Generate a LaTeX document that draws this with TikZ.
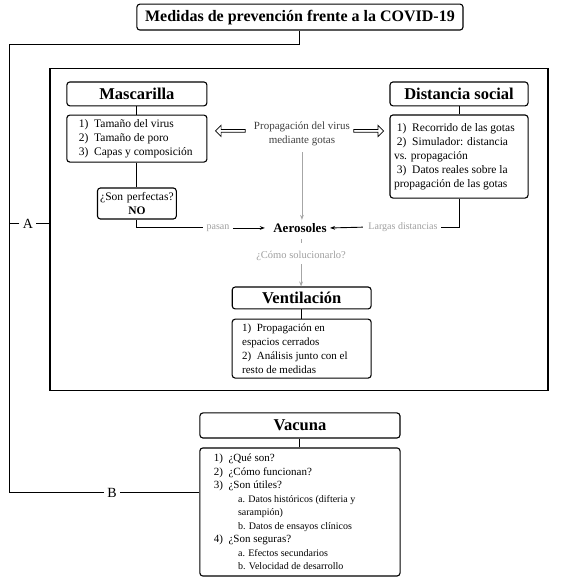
\documentclass[tikz,border=0pt]{standalone}
\usepackage{fontspec}
\setmainfont{Liberation Serif}
\usetikzlibrary{shapes.arrows, arrows.meta, positioning}

\newcommand{\vsub}[1]{\hspace*{2.2em}{\fontsize{10}{13.5}\selectfont #1}}

\begin{document}
\begin{tikzpicture}[
    hdr/.style={rectangle, rounded corners=3pt, draw, line width=1.1pt, align=center, inner sep=1pt, font=\fontsize{16.5}{19}\selectfont\bfseries},
    lst/.style={rectangle, rounded corners=3pt, draw, line width=1.1pt, align=flush left, inner xsep=6pt, font=\fontsize{11.5}{14}\selectfont},
    lbl/.style={font=\fontsize{10}{12}\selectfont, text=gray!75},
    hollow/.style={single arrow, draw, line width=0.7pt, minimum height=1.05cm, minimum width=0.4cm, single arrow head extend=0.12cm, inner sep=0.8pt},
    ln/.style={line width=1pt},
    arr/.style={-{Stealth[length=5pt]}, line width=0.9pt},
    garr/.style={-{Stealth[length=5pt]}, line width=0.9pt, gray!70}
]

\useasboundingbox (0,0) rectangle (19.85,-20.31);

%% -- Title and big frame ----------------------------------------------------
\node[hdr, font=\fontsize{16}{19}\selectfont\bfseries, minimum width=11.46cm, minimum height=0.91cm] (title) at (10.54,-0.60) {Medidas de prevención frente a la COVID-19};
\node[draw, line width=1.3pt, minimum width=17.50cm, minimum height=11.32cm] (frame) at (10.51,-8.06) {};
\coordinate (tl) at (0.35,-1.55);

%% -- Mascarilla column --------------------------------------------------------
\node[hdr, minimum width=4.92cm, minimum height=0.84cm] (mhdr) at (4.81,-3.30) {Mascarilla};
\node[lst, inner xsep=12pt, text width=4.08cm, minimum height=1.65cm] (mlist) at (4.81,-4.87)
    {1)~~Tamaño del virus\\2)~~Tamaño de poro\\3)~~Capas y composición};
\node[lst, align=center, text width=2.7cm, minimum height=1.09cm, inner xsep=1pt] (perf) at (4.81,-7.15)
    {¿Son perfectas?\\\textbf{NO}};

%% -- Distancia social column -------------------------------------------------
\node[hdr, minimum width=4.85cm, minimum height=0.84cm] (dhdr) at (16.13,-3.30) {Distancia social};
\node[lst, inner xsep=4pt, text width=4.57cm, minimum height=2.92cm] (dlist) at (16.13,-5.50)
    {\hspace*{0.25em}1)~~Recorrido de las gotas\\\hspace*{0.25em}2)~~Simulador: distancia\\vs. propagación\\\hspace*{0.25em}3)~~Datos reales sobre la\\propagación de las gotas};

%% -- Middle: propagation and aerosols ----------------------------------------
\node[font=\fontsize{11}{13.5}\selectfont, text=black!75, align=center] (prop) at (10.61,-4.71) {Propagación del virus\\mediante gotas};
\node[hollow, shape border rotate=180] (larr) at (8.12,-4.60) {};
\node[hollow] (rarr) at (12.93,-4.60) {};
\node[font=\fontsize{13}{15}\selectfont\bfseries] (aero) at (10.54,-8.01) {Aerosoles};
\node[lbl] (pasan) at (7.66,-8.01) {pasan};
\node[lbl] (largas) at (14.16,-7.98) {Largas distancias};
\node[lbl, font=\fontsize{10.5}{12}\selectfont] (como) at (10.58,-9.00) {¿Cómo solucionarlo?};

%% -- Ventilacion ---------------------------------------------------------------
\node[hdr, minimum width=4.88cm, minimum height=0.77cm] (vhdr) at (10.60,-10.47) {Ventilación};
\node[lst, inner xsep=10pt, font=\fontsize{11}{14}\selectfont, text width=4.18cm, minimum height=2.07cm] (vlist) at (10.60,-12.25)
    {1)~~Propagación en\\espacios cerrados\\2)~~Análisis junto con el\\resto de medidas};

%% -- Vacuna --------------------------------------------------------------------
\node[hdr, minimum width=7.03cm, minimum height=0.88cm] (vachdr) at (10.54,-14.95) {Vacuna};
\node[lst, inner xsep=14pt, text width=6.05cm, minimum height=4.50cm, font=\fontsize{11}{13.5}\selectfont] (vaclist) at (10.54,-17.99)
    {1)~~¿Qué son?\\2)~~¿Cómo funcionan?\\3)~~¿Son útiles?\\
     \vsub{a. Datos históricos (difteria y}\\\vsub{sarampión)}\\\vsub{b. Datos de ensayos clínicos}\\
     4)~~¿Son seguras?\\\vsub{a. Efectos secundarios}\\\vsub{b. Velocidad de desarrollo}};

%% -- Branch labels ---------------------------------------------------------------
\node[font=\fontsize{14}{16}\selectfont] (A) at (0.98,-7.87) {A};
\node[font=\fontsize{14}{16}\selectfont] (B) at (3.94,-17.32) {B};

%% -- Trunk and branches ------------------------------------------------------------
\draw[ln] (title.south) |- (tl) |- (B.west);
\draw[ln] (B.east) -- (B -| vaclist.west);
\draw[ln] (A.west) -- (A -| tl);
\draw[ln] (A.east) -- (A -| frame.west);

%% -- Headers to lists ---------------------------------------------------------------
\draw[ln] (mhdr) -- (mlist);
\draw[ln] (mlist) -- (perf);
\draw[ln] (dhdr) -- (dlist);
\draw[ln] (vhdr) -- (vlist);
\draw[ln] (vachdr) -- (vaclist);

%% -- Into aerosols ------------------------------------------------------------------
\draw[ln] (perf.south) |- (pasan.west);
\draw[ln] (dlist.south) |- (largas.east);
\draw[arr, shorten >=5pt] (pasan.east) -- (aero.west);
\draw[arr, shorten <=2pt] (largas.west) -- (aero.east);
\draw[garr] ([yshift=-3pt]prop.south) -- (prop.south |- aero.north);
\draw[gray!70, line width=0.8pt, shorten <=3pt, shorten >=5pt] (aero.south -| como) -- (como.north);
\draw[garr] (como.south) -- (como.south |- vhdr.north);

\end{tikzpicture}
\end{document}
